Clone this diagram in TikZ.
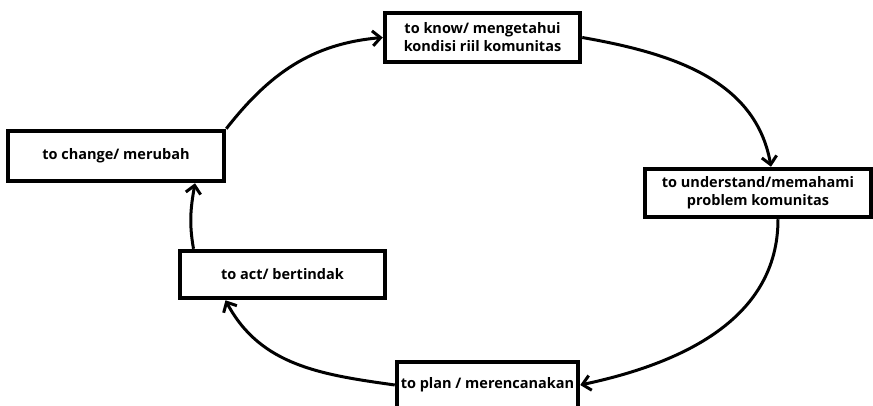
\documentclass[tikz,border=0pt]{standalone}
\usepackage{fontspec}
\setmainfont{Open Sans}
\usetikzlibrary{arrows.meta}

\begin{document}
\begin{tikzpicture}[x=1pt,y=1pt,
    stepbox/.style={draw, line width=4.5pt, fill=white, align=center,
      font=\fontsize{14.5}{18}\selectfont\bfseries, inner sep=0pt},
    flow/.style={line width=3pt, -{Straight Barb[length=8pt,width=15pt,line width=3pt]}}]
  \useasboundingbox (0,-406) rectangle (873,0);

  % to know
  \node[stepbox, minimum width=195, minimum height=49] (know) at (482.5,-37.5)
    {to know/ mengetahui\\kondisi riil komunitas};

  % to understand
  \node[stepbox, minimum width=226, minimum height=48] (understand) at (758,-193)
    {to understand/memahami\\problem komunitas};

  % to plan
  \node[stepbox, minimum width=181, minimum height=46] (plan) at (487.5,-385)
    {to plan / merencanakan};

  % to act
  \node[stepbox, minimum width=205, minimum height=47] (act) at (282.5,-274.5)
    {to act/ bertindak};

  % to change
  \node[stepbox, minimum width=216, minimum height=50] (change) at (116,-156)
    {to change/ merubah};

  % cycle
  \draw[flow] (change.north east) to[out=52, in=185] (know.west);
  \draw[flow] (know.east) to[out=-10, in=100] ([xshift=13]understand.north);
  \draw[flow] ([xshift=20]understand.south) to[out=-90, in=12] (plan.east);
  \draw[flow] (plan.west) to[out=172, in=-62] ([xshift=-57]act.south);
  \draw[flow] ([xshift=-89]act.north) to[out=100, in=-100] ([xshift=79]change.south);
\end{tikzpicture}
\end{document}
